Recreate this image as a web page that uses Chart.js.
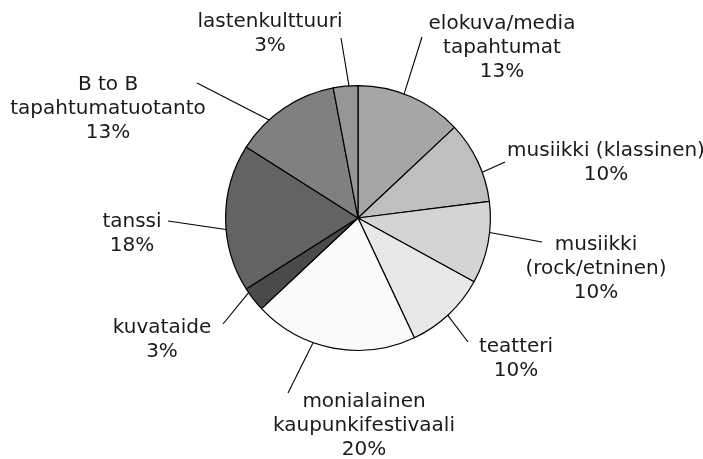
<!DOCTYPE html>
<html>
<head>
<meta charset="utf-8">
<script src="https://cdn.jsdelivr.net/npm/chart.js@4.4.1/dist/chart.umd.min.js"></script>
<style>
  html, body { margin: 0; padding: 0; background: #fff; }
  #wrap { width: 703px; height: 459px; }
</style>
</head>
<body>
<div id="wrap"><canvas id="pie-chart"></canvas></div>
<script>
// categories (each label split into its printed lines)
const categories = [
    ['elokuva/media', 'tapahtumat'],
    ['musiikki (klassinen)'],
    ['musiikki', '(rock/etninen)'],
    ['teatteri'],
    ['monialainen', 'kaupunkifestivaali'],
    ['kuvataide'],
    ['tanssi'],
    ['B to B', 'tapahtumatuotanto'],
    ['lastenkulttuuri']
];
const shares = [13, 10, 10, 10, 20, 3, 18, 13, 3];
const sliceColors = ['#a6a6a6', '#bfbfbf', '#d4d4d4', '#e8e8e8', '#fafafa', '#4a4a4a', '#636363', '#808080', '#969696'];

// leader lines: start shift along the arc (deg), end point and text spot relative to the pie centre
const lineShift = [-3, 5, -4.5, 0.5, 9, 3.5, -5, -8, 1.5];
const lineEnds = [[64, -181], [147, -56], [184, 24], [110, 124], [-70, 175], [-135, 106], [-190, 3], [-161, -135], [-17, -180]];
const textPos = [[144, -189], [248, -62], [238, 32], [158, 134], [6, 189], [-196, 115], [-226, 9], [-250, -128], [-88, -191]];

const labelPlugin = {
    id: 'outsideLabels',
    afterDatasetsDraw(chart) {
        const c = chart.ctx;
        const meta = chart.getDatasetMeta(0);
        c.save();
        c.font = '20px "DejaVu Sans"';
        c.fillStyle = '#1a1a1a';
        c.strokeStyle = '#000';
        c.lineWidth = 1.1;
        c.textAlign = 'center';
        c.textBaseline = 'alphabetic';
        meta.data.forEach((arc, i) => {
            const p = arc.getProps(['x', 'y', 'startAngle', 'endAngle', 'outerRadius'], true);
            const a = (p.startAngle + p.endAngle) / 2 + lineShift[i] * Math.PI / 180;
            c.beginPath();
            c.moveTo(p.x + Math.cos(a) * p.outerRadius, p.y + Math.sin(a) * p.outerRadius);
            c.lineTo(p.x + lineEnds[i][0], p.y + lineEnds[i][1]);
            c.stroke();
            const lines = categories[i].concat([shares[i] + '%']);
            lines.forEach((t, k) => {
                c.fillText(t, p.x + textPos[i][0], p.y + textPos[i][1] + k * 24);
            });
        });
        c.restore();
    }
};

const ctx = document.getElementById('pie-chart');

const myChart = new Chart(ctx, {
    type: 'pie',
    data: {
        labels: categories.map(l => l.join(' ')),
        datasets: [{
            data: shares,
            backgroundColor: sliceColors,
            borderColor: '#000',
            borderWidth: 1.2
        }]
    },
    options: {
        responsive: true,
        maintainAspectRatio: false,
        animation: false,
        layout: {
            padding: { left: 225, right: 212, top: 85, bottom: 108 }
        },
        plugins: {
            legend: false,
            tooltip: { enabled: false }
        }
    },
    plugins: [labelPlugin]
});
</script>
</body>
</html>
